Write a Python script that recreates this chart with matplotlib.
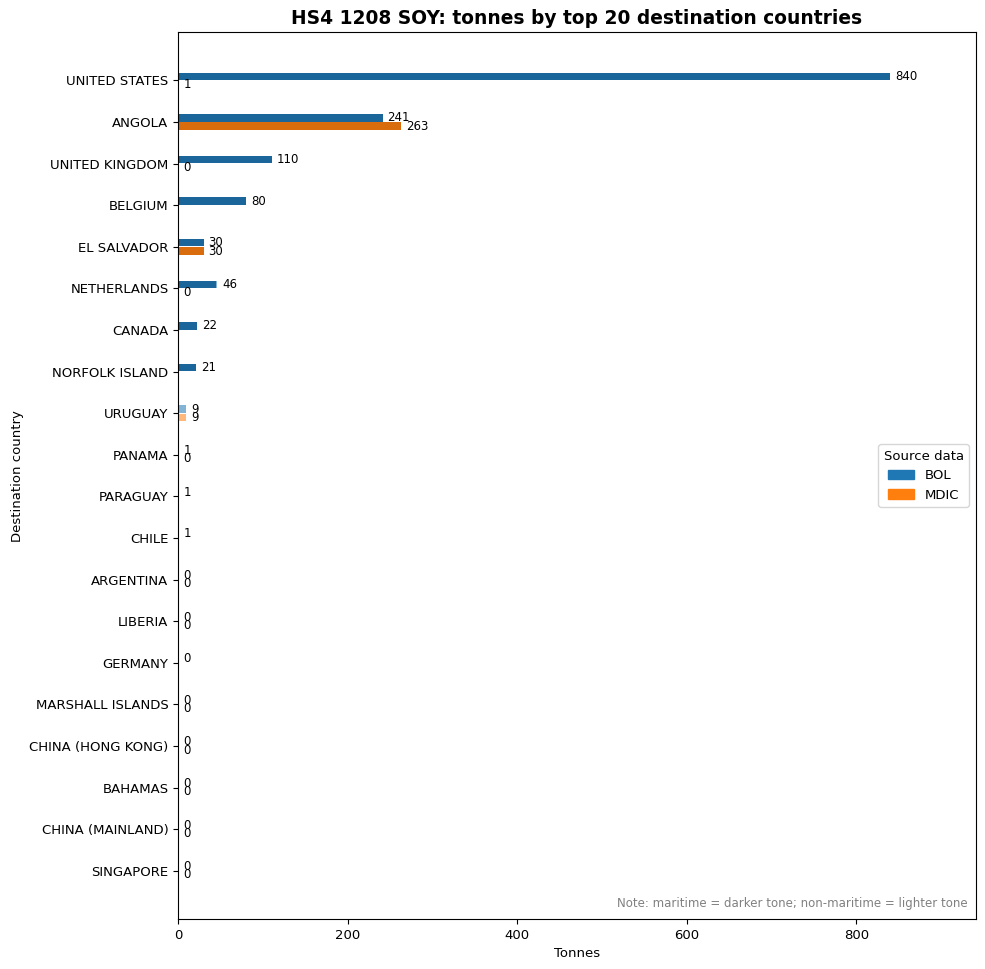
import matplotlib
matplotlib.use('Agg')
import matplotlib.pyplot as plt
from matplotlib.patches import Patch
import numpy as np

countries = ['UNITED STATES', 'ANGOLA', 'UNITED KINGDOM', 'BELGIUM', 'EL SALVADOR',
             'NETHERLANDS', 'CANADA', 'NORFOLK ISLAND', 'URUGUAY', 'PANAMA',
             'PARAGUAY', 'CHILE', 'ARGENTINA', 'LIBERIA', 'GERMANY',
             'MARSHALL ISLANDS', 'CHINA (HONG KONG)', 'BAHAMAS', 'CHINA (MAINLAND)', 'SINGAPORE']

nan = np.nan
# tonnes, split into maritime / non-maritime
bol_maritime = [840, 241, 110, 80, 30, 44.6, 22, 21, 0, 1, 1, 1, 0, 0, 0, 0, 0, 0, 0, 0]
bol_other = [0, 0, 0, 0, 0, 1.4, 0, 0, 9, 0, 0, 0, 0, 0, 0, 0, 0, 0, 0, 0]
mdic_maritime = [0.8, 263, 0, nan, 30, 0, nan, nan, 0, 0, nan, nan, 0, 0, nan, 0, 0, 0, 0, 0]
mdic_other = [0, 0, 0, nan, 0, 0, nan, nan, 9, 0, nan, nan, 0, 0, nan, 0, 0, 0, 0, 0]

sources = {
    'BOL': (bol_maritime, bol_other, '#1f77b4', '#1a6599', -0.1),
    'MDIC': (mdic_maritime, mdic_other, '#ff7f0e', '#d96c0c', 0.1),
}

plt.rcParams['font.size'] = 9.5

fig, ax = plt.subplots(figsize=(9.85, 9.69), dpi=100)
y = np.arange(len(countries))
h = 0.18

for name, (mar, oth, base, dark, off) in sources.items():
    mar = np.array(mar, dtype=float)
    oth = np.array(oth, dtype=float)
    ok = ~np.isnan(mar)
    ax.barh(y[ok] + off, mar[ok], height=h, color=dark)
    ax.barh(y[ok] + off, oth[ok], left=mar[ok], height=h, color=base, alpha=0.55)
    tot = mar + oth
    for yi, t in zip(y[ok], tot[ok]):
        ax.annotate(f'{t:.0f}', (t, yi + off), xytext=(3.5, 0), textcoords='offset points',
                    va='center', ha='left', fontsize=8.5)

ax.set_yticks(y)
ax.set_yticklabels(countries)
ax.invert_yaxis()
ax.set_xlim(0, max(bol_maritime) * 1.12)
ax.set_xlabel('Tonnes')
ax.set_ylabel('Destination country')
ax.set_title('HS4 1208 SOY: tonnes by top 20 destination countries', fontsize=13.4, fontweight='bold')

handles = [Patch(color='#1f77b4', label='BOL'), Patch(color='#ff7f0e', label='MDIC')]
ax.legend(handles=handles, title='Source data', loc='center right')
ax.text(0.99, 0.01, 'Note: maritime = darker tone; non-maritime = lighter tone',
        transform=ax.transAxes, ha='right', va='bottom', fontsize=8.5, color='gray')

fig.subplots_adjust(left=0.181, right=0.9905, top=0.9667, bottom=0.0516)
fig.savefig('out.png')
